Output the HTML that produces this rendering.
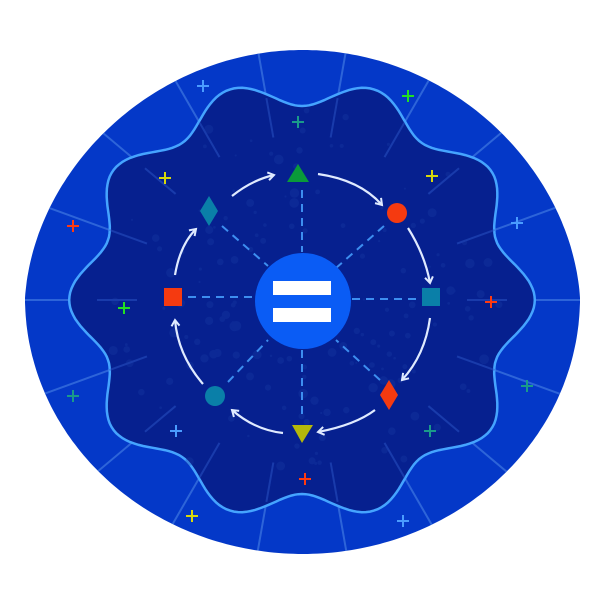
<!DOCTYPE html>
<html><head><meta charset="utf-8"><style>html,body{margin:0;background:#fff}svg{display:block}</style></head>
<body>
<svg id="s" width="600" height="600" viewBox="0 0 600 600" xmlns="http://www.w3.org/2000/svg">
<defs>
<clipPath id="oc"><path id="ocp"/></clipPath>
<marker id="ah" markerWidth="10" markerHeight="10" refX="7" refY="5" orient="auto" markerUnits="userSpaceOnUse"><path d="M1,1 L7,5 L1,9" fill="none" stroke="#dfeaff" stroke-width="2"/></marker>
</defs>
<path id="outer" fill="#0438c8"/>
<g id="rays" clip-path="url(#oc)" stroke="#3f78e0" stroke-width="2" opacity="0.7"></g>
<path id="wav" fill="#06208f" stroke="#45a4ff" stroke-width="2.5"/>
<g id="rays2" stroke="#2c57c8" stroke-width="2" opacity="0.5"></g>
<g id="dots" fill="#1a3ea8" opacity="0.3"></g>
<g stroke="#3d8ef0" stroke-width="2" stroke-dasharray="8,6">
<line x1="302" y1="190" x2="302" y2="252"/><line x1="302" y1="350" x2="302" y2="420"/>
<line x1="188" y1="297" x2="254" y2="297"/><line x1="352" y1="299" x2="418" y2="299"/>
<line x1="222" y1="226" x2="268" y2="266"/><line x1="384" y1="226" x2="336" y2="268"/>
<line x1="228" y1="382" x2="268" y2="340"/><line x1="380" y1="380" x2="336" y2="340"/>
</g>
<g fill="none" stroke="#dfeaff" stroke-width="2.2" marker-end="url(#ah)">
<path d="M232,196 Q252,180 274,175"/>
<path d="M318,174 Q360,180 382,205"/>
<path d="M408,228 Q425,255 430,283"/>
<path d="M430,318 Q425,355 402,380"/>
<path d="M375,410 Q355,425 318,432"/>
<path d="M283,433 Q255,430 232,410"/>
<path d="M203,384 Q178,355 175,320"/>
<path d="M175,275 Q180,245 196,229"/>
</g>
<circle cx="303" cy="301" r="48" fill="#0a5cf5"/>
<rect x="273" y="281" width="58" height="14" fill="#fff"/>
<rect x="273" y="308" width="58" height="14" fill="#fff"/>
<polygon points="298,164 309,182 287,182" fill="#0a9a3a"/>
<circle cx="397" cy="213" r="10" fill="#f53a10"/>
<rect x="422" y="288" width="18" height="18" fill="#0a7fa8"/>
<polygon points="389,380 398,395 389,410 380,395" fill="#f53a10"/>
<polygon points="292,425 313,425 302,443" fill="#b5b80a"/>
<circle cx="215" cy="396" r="10" fill="#0a7fa8"/>
<rect x="164" y="288" width="18" height="18" fill="#f53a10"/>
<polygon points="209,196 218,211 209,226 200,211" fill="#0a7fa8"/>
<g id="plus" stroke-width="2"></g>
</svg>
<script>
var cx=302,cy=300,p="";
for(var i=0;i<=360;i++){var t=i*Math.PI/180;var r=212-14*Math.cos(10*t);
var x=cx+r*Math.sin(t)*1.03,y=cy-r*Math.cos(t)*0.98;p+=(i?"L":"M")+x.toFixed(1)+","+y.toFixed(1);}
document.getElementById("wav").setAttribute("d",p+"Z");
var o="";
for(var i=0;i<=360;i++){var t=i*Math.PI/180;var sx=Math.sin(t),cy2=Math.cos(t);
var rx=sx>0?277:278;var ry=cy2>0?248:256;var sq=1+0.04*Math.pow(Math.sin(2*t),2);
var x=303+rx*sx*(cy2<0?1:1-0.06*cy2);var y=298-ry*cy2;o+=(i?"L":"M")+x.toFixed(1)+","+y.toFixed(1);}
document.getElementById("outer").setAttribute("d",o+"Z");document.getElementById("ocp").setAttribute("d",o+"Z");
var g=document.getElementById("rays"),g2=document.getElementById("rays2"),h="",h2="";
for(var k=0;k<18;k++){var a=(k*20+10)*Math.PI/180;
h+='<line x1="'+(cx+185*Math.sin(a))+'" y1="'+(cy-185*Math.cos(a))+'" x2="'+(cx+320*Math.sin(a))+'" y2="'+(cy-320*Math.cos(a))+'"/>';
h2+='<line x1="'+(cx+165*Math.sin(a))+'" y1="'+(cy-165*Math.cos(a))+'" x2="'+(cx+205*Math.sin(a))+'" y2="'+(cy-205*Math.cos(a))+'"/>';}
g.innerHTML=h;g2.innerHTML=h2;
var d="",seed=7;function rn(){seed=(seed*9301+49297)%233280;return seed/233280;}
for(var j=0;j<160;j++){var a2=rn()*6.283,rr=60+rn()*140;d+='<circle cx="'+(cx+rr*Math.cos(a2))+'" cy="'+(cy+rr*Math.sin(a2))+'" r="'+(1+rn()*4)+'"/>';}
document.getElementById("dots").innerHTML=d;
var P=[[203,86,"#4a9cff"],[408,96,"#22e022"],[298,122,"#1a9a8a"],[165,178,"#d8d80a"],[432,176,"#d8d80a"],[73,226,"#ff3a10"],[517,223,"#4a9cff"],[124,308,"#22e022"],[491,302,"#ff3a10"],[73,396,"#1a9a8a"],[527,386,"#1a9a8a"],[176,431,"#4a9cff"],[430,431,"#1a9a8a"],[305,479,"#ff3a10"],[192,516,"#d8d80a"],[403,521,"#4a9cff"]];
var s="";P.forEach(function(q){s+='<path d="M'+(q[0]-6)+','+q[1]+'h12M'+q[0]+','+(q[1]-6)+'v12" stroke="'+q[2]+'"/>';});
document.getElementById("plus").innerHTML=s;
</script>
</body></html>
